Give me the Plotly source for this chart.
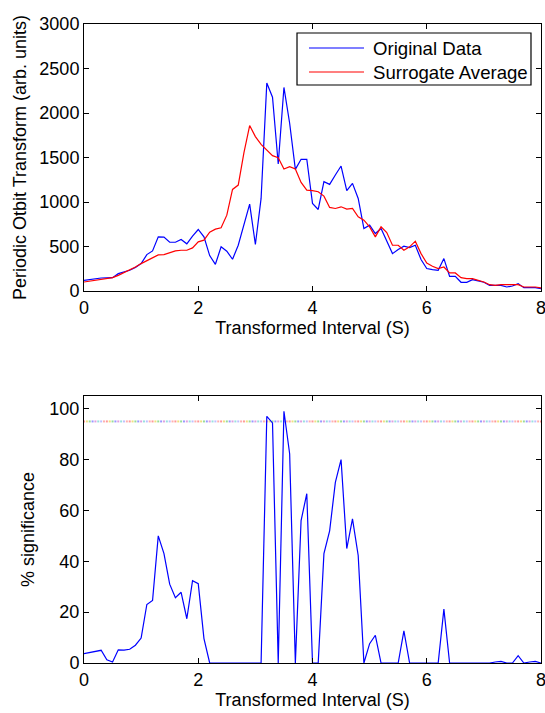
import plotly.graph_objects as go

# ---- data ----
interval = [round(0.1 * k, 1) for k in range(81)]

original_data = [120, 130, 140, 146, 148, 150, 195, 214, 233, 263,
                 308, 409, 450, 608, 605, 548, 548, 578, 530, 616,
                 691, 608, 398, 300, 496, 447, 357, 514, 759, 976,
                 522, 1040, 2336, 2178, 1427, 2287, 1885, 1367, 1480, 1480,
                 984, 916, 1228, 1198, 1303, 1404, 1127, 1209, 1040, 702,
                 740, 646, 702, 552, 420, 466, 503, 488, 514, 353,
                 252, 240, 233, 364, 165, 165, 98, 98, 128, 113,
                 98, 64, 64, 64, 45, 56, 83, 38, 38, 38, 26]

surrogate_avg = [101, 110, 119, 128, 140, 150, 176, 206, 240, 270,
                 308, 338, 372, 405, 409, 432, 450, 458, 458, 484,
                 552, 571, 661, 695, 710, 852, 1141, 1190, 1555, 1859,
                 1735, 1648, 1585, 1521, 1498, 1371, 1397, 1371, 1220, 1134,
                 1127, 1115, 1066, 939, 927, 946, 920, 927, 834, 796,
                 721, 608, 721, 657, 514, 514, 458, 496, 560, 420,
                 315, 278, 252, 270, 203, 203, 150, 139, 139, 120,
                 101, 71, 64, 71, 71, 71, 71, 45, 45, 45, 34]

significance = [3.7, 4.1, 4.5, 5.0, 1.3, 0.4, 5.2, 5.1, 5.4, 7.0,
                9.8, 23, 24.6, 50, 43, 31, 25.7, 27.8, 17.4, 32.4,
                31.2, 9.6, 0, 0, 0, 0, 0, 0, 0, 0,
                0, 0, 97, 94.4, 0, 99, 82.3, 0, 56, 66.6,
                0, 0, 43, 52, 71, 80, 45, 56.7, 42.3, 0,
                7.6, 10.9, 0, 0, 0, 0, 12.6, 0, 0, 0,
                0, 0, 0, 21.2, 0, 0, 0, 0, 0, 0,
                0, 0, 0.4, 0.6, 0, 0, 2.9, 0, 0.4, 0.6, 0]

threshold = 95
x_ticks = [0, 2, 4, 6, 8]
top_y_ticks = [0, 500, 1000, 1500, 2000, 2500, 3000]
bot_y_ticks = [0, 20, 40, 60, 80, 100]
series_names = ["Original Data", "Surrogate Average"]
series_colors = ["#0000ff", "#ff0000"]

# ---- figure ----
FONT = "Liberation Sans, Arial, Helvetica, sans-serif"
fig = go.Figure()

fig.add_trace(go.Scatter(x=interval, y=original_data, mode="lines",
                         name=series_names[0], line=dict(color=series_colors[0], width=1.2),
                         xaxis="x", yaxis="y"))
fig.add_trace(go.Scatter(x=interval, y=surrogate_avg, mode="lines",
                         name=series_names[1], line=dict(color=series_colors[1], width=1.2),
                         xaxis="x", yaxis="y"))

# multicoloured dotted threshold line
dot_x = [round(0.05 * k, 2) for k in range(161)]
palette = ["#ff9999", "#f0e080", "#99dd99", "#9999ff", "#e0a0e0", "#99e0e0", "#c0c0ff", "#ffb0b0"]
dot_c = [palette[i % len(palette)] for i in range(len(dot_x))]
fig.add_trace(go.Scatter(x=dot_x, y=[threshold] * len(dot_x), mode="markers",
                         marker=dict(symbol="square", size=2, color=dot_c, line=dict(width=0)),
                         showlegend=False, hoverinfo="skip", xaxis="x2", yaxis="y2"))

fig.add_trace(go.Scatter(x=interval, y=significance, mode="lines",
                         line=dict(color="#0000ff", width=1.2), showlegend=False,
                         xaxis="x2", yaxis="y2"))

axis_common = dict(showline=True, linecolor="black", linewidth=1, mirror="ticks",
                   ticks="inside", ticklen=5, tickcolor="black", tickwidth=1,
                   showgrid=False, zeroline=False, ticklabeloverflow="allow",
                   automargin=False,
                   tickfont=dict(family=FONT, size=18, color="black"))

fig.update_layout(
    width=545, height=713,
    margin=dict(l=84, r=4, t=24, b=50, autoexpand=False),
    paper_bgcolor="white", plot_bgcolor="white",
    font=dict(family=FONT, size=18, color="black"),
    xaxis=dict(domain=[0, 1], range=[0, 8], tickvals=x_ticks, anchor="y",
               title=dict(text="Transformed Interval (S)", standoff=4,
                          font=dict(family=FONT, size=18)), **axis_common),
    yaxis=dict(domain=[0.58216, 1], range=[0, 3000], tickvals=top_y_ticks, anchor="x",
               title=dict(text="Periodic Otbit Transform (arb. units)", standoff=8,
                          font=dict(family=FONT, size=18)), **axis_common),
    xaxis2=dict(domain=[0, 1], range=[0, 8], tickvals=x_ticks, anchor="y2",
                title=dict(text="Transformed Interval (S)", standoff=4,
                           font=dict(family=FONT, size=18)), **axis_common),
    yaxis2=dict(domain=[0, 0.41784], range=[0, 105], tickvals=bot_y_ticks, anchor="x2",
                title=dict(text="% significance", standoff=10,
                           font=dict(family=FONT, size=18)), **axis_common),
    showlegend=False,
)

# ---- legend (drawn in the top axes' domain coordinates) ----
fig.add_shape(type="rect", xref="x domain", yref="y domain",
              x0=0.4661, x1=0.9781, y0=0.7715, y1=0.9663,
              line=dict(color="black", width=1.2), fillcolor="white", layer="above")
legend_rows_y = [0.9101, 0.8202]
for name, color, yy in zip(series_names, series_colors, legend_rows_y):
    fig.add_shape(type="line", xref="x domain", yref="y domain",
                  x0=0.4923, x1=0.6127, y0=yy, y1=yy,
                  line=dict(color=color, width=1.2), layer="above")
    fig.add_annotation(xref="x domain", yref="y domain", x=0.6280, y=yy,
                       text=name, showarrow=False, xanchor="left", yanchor="middle",
                       font=dict(family=FONT, size=18.6, color="black"))

fig.write_html("out.html")
